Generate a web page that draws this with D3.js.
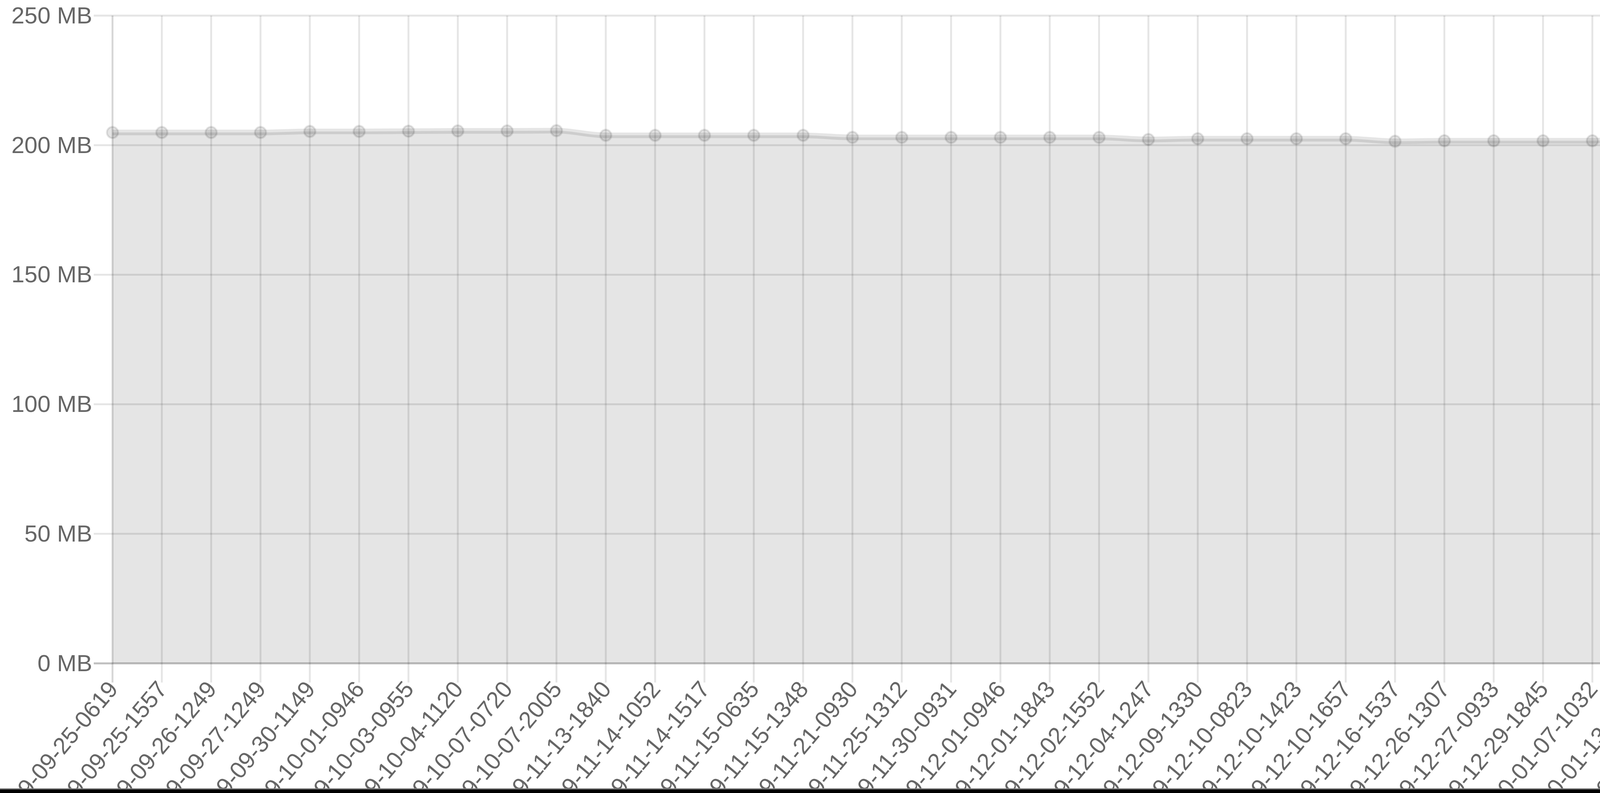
<!DOCTYPE html>
<html>
<head>
<meta charset="utf-8">
<script src="https://cdn.jsdelivr.net/npm/d3@7"></script>
<style>
  html, body { margin: 0; padding: 0; background: #fff; overflow: hidden; }
  svg { display: block; }
  text { font-family: "Liberation Sans", Arial, Helvetica, sans-serif; }
</style>
</head>
<body>
<svg id="chart" width="4389" height="2031"></svg>
<script>
const categories = [
  "2019-09-25-0619","2019-09-25-1557","2019-09-26-1249","2019-09-27-1249",
  "2019-09-30-1149","2019-10-01-0946","2019-10-03-0955","2019-10-04-1120",
  "2019-10-07-0720","2019-10-07-2005","2019-11-13-1840","2019-11-14-1052",
  "2019-11-14-1517","2019-11-15-0635","2019-11-15-1348","2019-11-21-0930",
  "2019-11-25-1312","2019-11-30-0931","2019-12-01-0946","2019-12-01-1843",
  "2019-12-02-1552","2019-12-04-1247","2019-12-09-1330","2019-12-10-0823",
  "2019-12-10-1423","2019-12-10-1657","2019-12-16-1537","2019-12-26-1307",
  "2019-12-27-0933","2019-12-29-1845","2020-01-07-1032","2020-01-13-1321",
  "2020-01-16-1539"
];
const sizeMB = [
  204.9, 204.9, 204.9, 204.9, 205.3, 205.3, 205.4, 205.5, 205.5, 205.6,
  203.8, 203.8, 203.8, 203.8, 203.8, 203.0, 203.0, 203.0, 203.0, 203.0,
  203.0, 202.2, 202.5, 202.5, 202.5, 202.5, 201.5, 201.7, 201.7, 201.7,
  201.7, 202.9, 202.9
];
const yTicks = [0, 50, 100, 150, 200, 250];
const yUnit = " MB";

(function () {
const W = 4389, H = 2031;
const plotL = 288, plotR = 4329, plotT = 40, plotB = 1699;
const fs = 60;
const gridW = 4.8;
const font = '"Liberation Sans", Arial, Helvetica, sans-serif';

const svg = d3.select("#chart");
const x = d3.scalePoint().domain(categories).range([plotL, plotR]);
const y = d3.scaleLinear().domain([0, 250]).range([plotB, plotT]);

// horizontal grid lines
svg.append("g").selectAll("line").data(yTicks).join("line")
  .attr("x1", plotL - 48).attr("x2", plotR)
  .attr("y1", d => y(d)).attr("y2", d => y(d))
  .attr("stroke", d => d === 0 ? "rgba(0,0,0,0.25)" : "rgba(0,0,0,0.1)")
  .attr("stroke-width", gridW);

// vertical grid lines
svg.append("g").selectAll("line").data(categories).join("line")
  .attr("x1", d => x(d)).attr("x2", d => x(d))
  .attr("y1", plotT).attr("y2", plotB + 49)
  .attr("stroke", (d, i) => i === 0 ? "rgba(0,0,0,0.16)" : "rgba(0,0,0,0.1)")
  .attr("stroke-width", gridW);

// area fill
const area = d3.area()
  .x((d, i) => x(categories[i]))
  .y0(y(0))
  .y1(d => y(d))
  .curve(d3.curveMonotoneX);
svg.append("path").datum(sizeMB)
  .attr("d", area)
  .attr("fill", "rgba(0,0,0,0.1)");

// line
const line = d3.line()
  .x((d, i) => x(categories[i]))
  .y(d => y(d))
  .curve(d3.curveMonotoneX);
svg.append("path").datum(sizeMB)
  .attr("d", line)
  .attr("fill", "none")
  .attr("stroke", "rgba(0,0,0,0.1)")
  .attr("stroke-width", 14.4);

// points
svg.append("g").selectAll("circle").data(sizeMB).join("circle")
  .attr("cx", (d, i) => x(categories[i]))
  .attr("cy", d => y(d))
  .attr("r", 14.4)
  .attr("fill", "rgba(0,0,0,0.1)")
  .attr("stroke", "rgba(0,0,0,0.1)")
  .attr("stroke-width", 4.8);

// y axis labels
const yAxis = d3.axisLeft(y).tickValues(yTicks).tickFormat(d => d + yUnit)
  .tickSize(0).tickPadding(52);
const gy = svg.append("g").attr("transform", `translate(${plotL},0)`).call(yAxis);
gy.select(".domain").remove();
gy.selectAll("text").attr("fill", "#666").attr("font-size", fs)
  .attr("font-family", font);

// x axis labels
const xAxis = d3.axisBottom(x).tickSize(0).tickPadding(0);
const gx = svg.append("g").attr("transform", `translate(0,${plotB})`).call(xAxis);
gx.select(".domain").remove();
gx.selectAll("text")
  .attr("fill", "#666").attr("font-size", fs)
  .attr("font-family", font)
  .attr("text-anchor", "end")
  .attr("dy", "0.35em")
  .attr("y", 0)
  .attr("transform", "translate(0,54) rotate(-50)");

// bottom screen edge
svg.append("rect").attr("x", 0).attr("y", 2019).attr("width", W).attr("height", 3).attr("fill", "#777");
svg.append("rect").attr("x", 0).attr("y", 2022).attr("width", W).attr("height", H - 2022).attr("fill", "#000");
})();
</script>
</body>
</html>
